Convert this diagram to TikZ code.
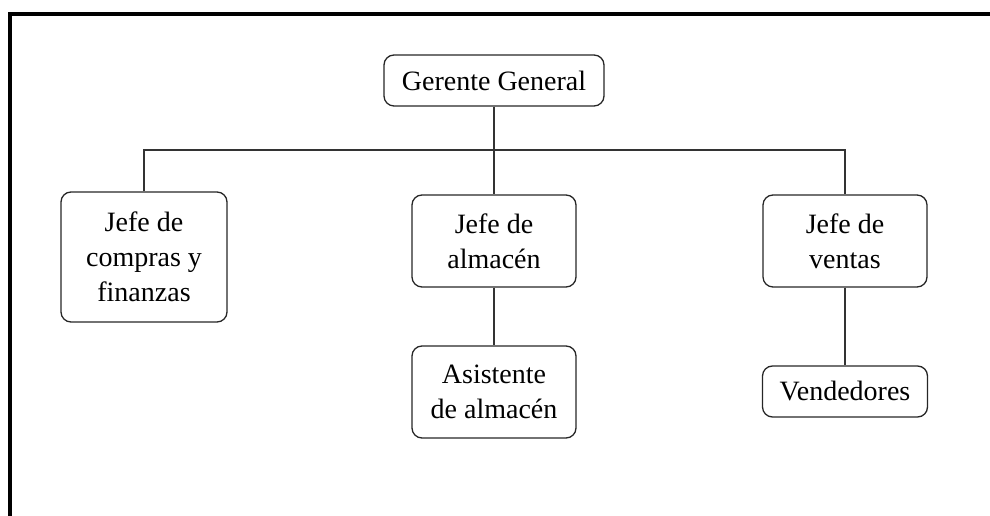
\documentclass[tikz,border=0pt]{standalone}
\usepackage{fontspec}
\setmainfont{Liberation Serif}
\begin{document}
\begin{tikzpicture}[x=1pt,y=1pt,
  orgbox/.style={draw=black!85, line width=1.3pt, rounded corners=10pt,
    align=center, inner sep=0pt, font=\fontsize{28}{35}\selectfont},
  link/.style={draw=black!80, line width=1.3pt}]
\useasboundingbox (0,0) rectangle (990,516);
% frame on the top and left sides
\draw[line width=4pt] (10,0) -- (10,502) -- (990,502);

% boxes
\node[orgbox, minimum width=220pt, minimum height=51pt] (gg) at (494,435.5) {Gerente General};
\node[orgbox, minimum width=166pt, minimum height=130pt] (jc) at (144,259) {Jefe de\\compras y\\finanzas};
\node[orgbox, minimum width=164pt, minimum height=92pt] (ja) at (494,275) {Jefe de\\almacén};
\node[orgbox, minimum width=164pt, minimum height=92pt] (as) at (494,124) {Asistente\\de almacén};
\node[orgbox, minimum width=164pt, minimum height=92pt] (jv) at (845,275) {Jefe de\\ventas};
\node[orgbox, minimum width=165pt, minimum height=51pt] (ve) at (845,124.5) {Vendedores};

% connectors
\coordinate (bus) at (494,366);
\draw[link] (gg.south) -- (gg.south |- bus);
\draw[link] (jc.north) |- (jv.north |- bus) -- (jv.north);
\draw[link] (gg.south |- bus) -- (ja.north);
\draw[link] (ja.south) -- (as.north);
\draw[link] (jv.south) -- (ve.north);
\end{tikzpicture}
\end{document}
